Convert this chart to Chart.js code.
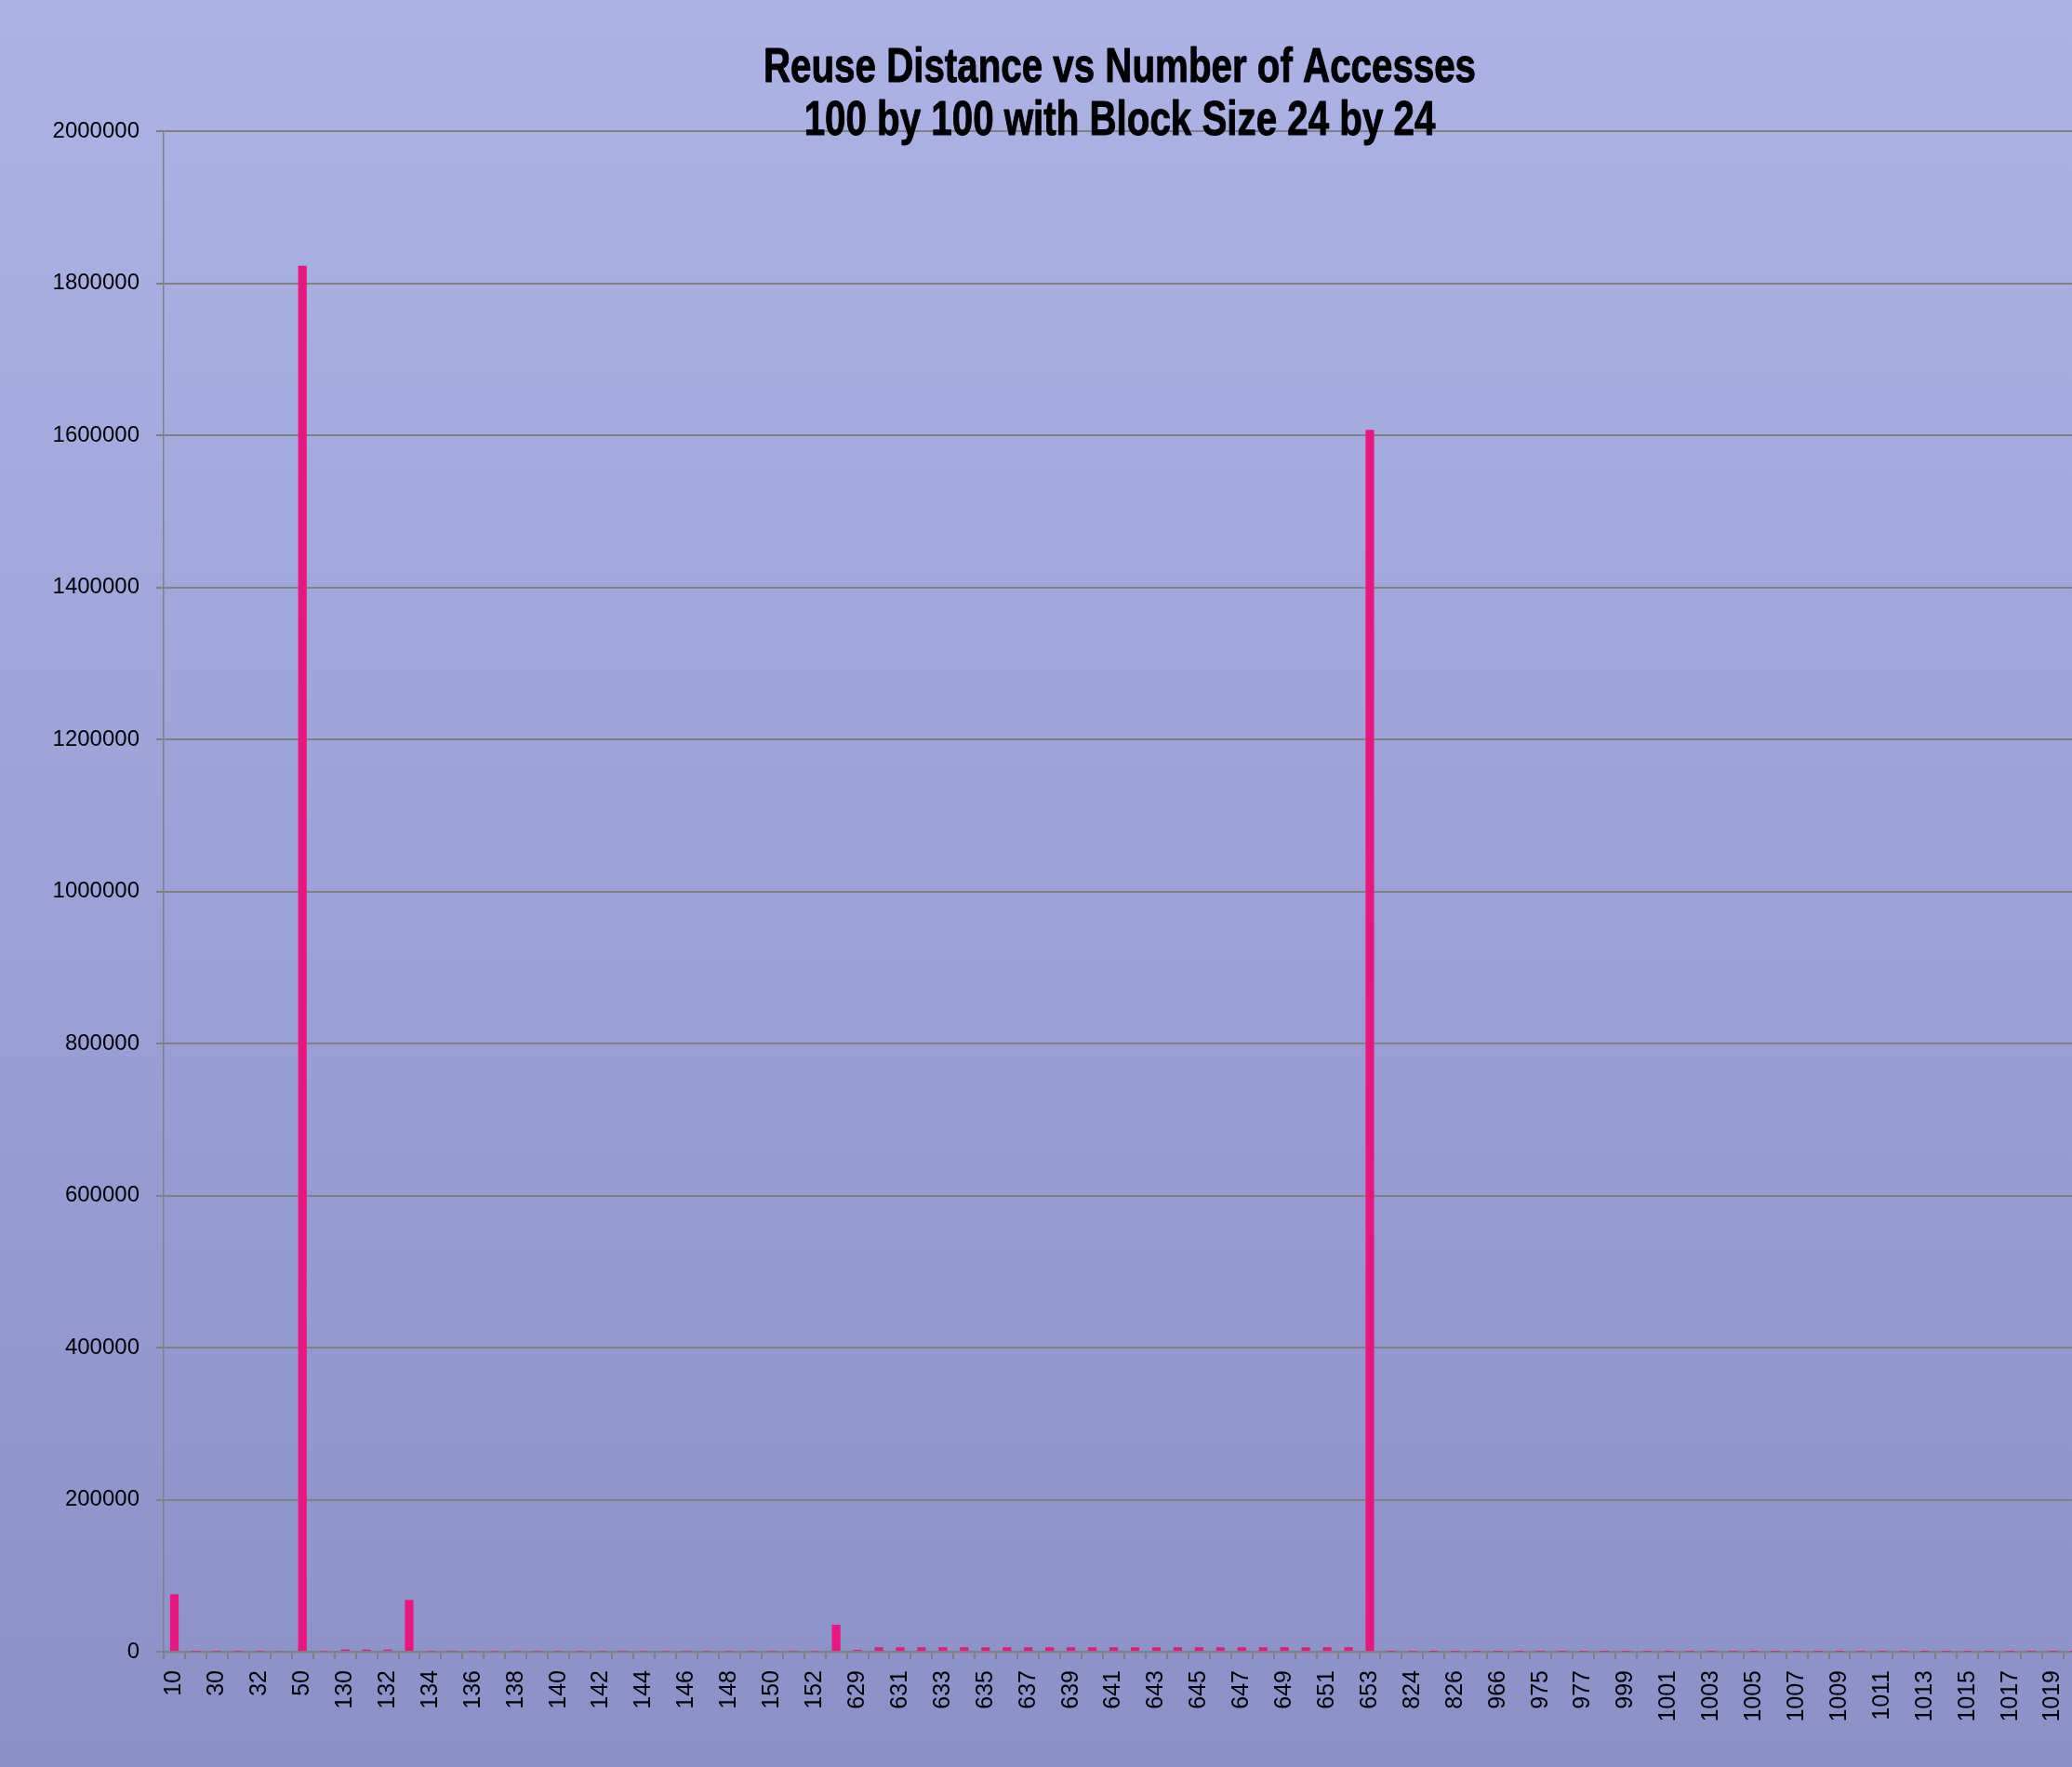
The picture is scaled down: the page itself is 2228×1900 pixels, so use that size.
<!DOCTYPE html>
<html>
<head>
<meta charset="utf-8">
<title>Reuse Distance vs Number of Accesses</title>
<script src="https://cdn.jsdelivr.net/npm/chart.js@4/dist/chart.umd.min.js"></script>
<style>
  html, body { margin: 0; padding: 0; overflow: hidden; background: #9ba1d6; }
  canvas { display: block; }
</style>
</head>
<body>
<canvas id="reuseChart" width="2242" height="1900"></canvas>
<script>
// Chart text
const titleLines = [
  'Reuse Distance vs Number of Accesses',
  '100 by 100 with Block Size 24 by 24'
];

// Reuse distance buckets (category axis); every other one is labelled
const reuseDistances = [
  10, 20, 30, 31, 32, 40, 50, 51, 130, 131,
  132, 133, 134, 135, 136, 137, 138, 139, 140, 141,
  142, 143, 144, 145, 146, 147, 148, 149, 150, 151,
  152, 153, 629, 630, 631, 632, 633, 634, 635, 636,
  637, 638, 639, 640, 641, 642, 643, 644, 645, 646,
  647, 648, 649, 650, 651, 652, 653, 823, 824, 825,
  826, 965, 966, 974, 975, 976, 977, 998, 999, 1000,
  1001, 1002, 1003, 1004, 1005, 1006, 1007, 1008, 1009, 1010,
  1011, 1012, 1013, 1014, 1015, 1016, 1017, 1018, 1019, 1020
];

// Number of accesses for each reuse distance
const accessCounts = [
  75400, 300, 300, 300, 300, 900, 1823000, 600, 2800, 2800,
  2800, 68000, 600, 600, 600, 600, 600, 600, 600, 600,
  600, 600, 600, 600, 600, 600, 600, 600, 600, 600,
  600, 35500, 2500, 5800, 5800, 5800, 5800, 5800, 5800, 5800,
  5800, 5800, 5800, 5800, 5800, 5800, 5800, 5800, 5800, 5800,
  5800, 5800, 5800, 5800, 5800, 5800, 1607000, 200, 200, 200,
  200, 200, 200, 200, 200, 200, 200, 200, 200, 200,
  200, 200, 200, 200, 200, 200, 200, 200, 200, 200,
  200, 200, 200, 200, 200, 200, 200, 200, 200, 200
];

// Value axis ticks
const yTickValues = [0, 200000, 400000, 600000, 800000, 1000000,
  1200000, 1400000, 1600000, 1800000, 2000000];

const axisGray = '#808080';
const barColor = '#E9177D';

// Soft blue-violet backdrop behind the whole chart
const backdrop = {
  id: 'backdrop',
  beforeDraw(chart) {
    const { ctx, width, height } = chart;
    const g = ctx.createLinearGradient(0, 0, 0, height);
    g.addColorStop(0, '#ACB3E4');
    g.addColorStop(0.5, '#9CA2D7');
    g.addColorStop(1, '#8B90C7');
    ctx.save();
    ctx.fillStyle = g;
    ctx.fillRect(0, 0, width, height);
    ctx.restore();
  }
};

// Two-line heavy, condensed heading laid over the top of the plot
const heading = {
  id: 'heading',
  afterDatasetsDraw(chart) {
    const { ctx, chartArea } = chart;
    const cx = (chartArea.left + chartArea.right) / 2 - 5;
    const squeeze = 0.775;
    ctx.save();
    ctx.fillStyle = '#000';
    ctx.strokeStyle = '#000';
    ctx.lineWidth = 1;
    ctx.lineJoin = 'round';
    ctx.textAlign = 'center';
    ctx.textBaseline = 'middle';
    ctx.font = 'bold 52px "Liberation Sans", Arial, sans-serif';
    ctx.translate(cx, 0);
    ctx.scale(squeeze, 1);
    titleLines.forEach((line, i) => {
      ctx.fillText(line, 0, 74 + i * 57);
      ctx.strokeText(line, 0, 74 + i * 57);
    });
    ctx.restore();
  }
};

Chart.defaults.font.family = '"Liberation Sans", Arial, sans-serif';
Chart.defaults.color = '#000';

new Chart(document.getElementById('reuseChart'), {
  type: 'bar',
  data: {
    labels: reuseDistances.map(String),
    datasets: [{
      label: 'Number of Accesses',
      data: accessCounts,
      backgroundColor: barColor,
      borderWidth: 0,
      barPercentage: 0.4,
      categoryPercentage: 1.0
    }]
  },
  options: {
    responsive: false,
    animation: false,
    layout: { padding: { top: 141, left: 0, right: 0, bottom: 0 } },
    plugins: {
      legend: { display: false },
      title: { display: false },
      tooltip: { enabled: false }
    },
    scales: {
      x: {
        afterFit(scale) {
          scale.height = 124;
          scale.paddingLeft = 0;
          scale.paddingRight = 0;
        },
        grid: {
          offset: true,
          drawOnChartArea: false,
          drawTicks: true,
          tickLength: 8,
          color: axisGray,
          lineWidth: 2
        },
        border: { color: axisGray, width: 2.5 },
        ticks: {
          autoSkip: false,
          minRotation: 90,
          maxRotation: 90,
          padding: 12,
          color: '#000',
          font: { size: 25 },
          callback: (v, i) => (i % 2 === 0 ? String(reuseDistances[i]) : '')
        }
      },
      y: {
        min: 0,
        max: 2000000,
        afterBuildTicks(scale) { scale.ticks = yTickValues.map(v => ({ value: v })); },
        afterFit(scale) { scale.width = 176; },
        grid: {
          color: axisGray,
          lineWidth: 2,
          drawTicks: true,
          tickLength: 8
        },
        border: { color: axisGray, width: 1.5 },
        ticks: {
          padding: 18,
          color: '#000',
          font: { size: 24 },
          callback: v => String(v)
        }
      }
    }
  },
  plugins: [backdrop, heading]
});
</script>
</body>
</html>
